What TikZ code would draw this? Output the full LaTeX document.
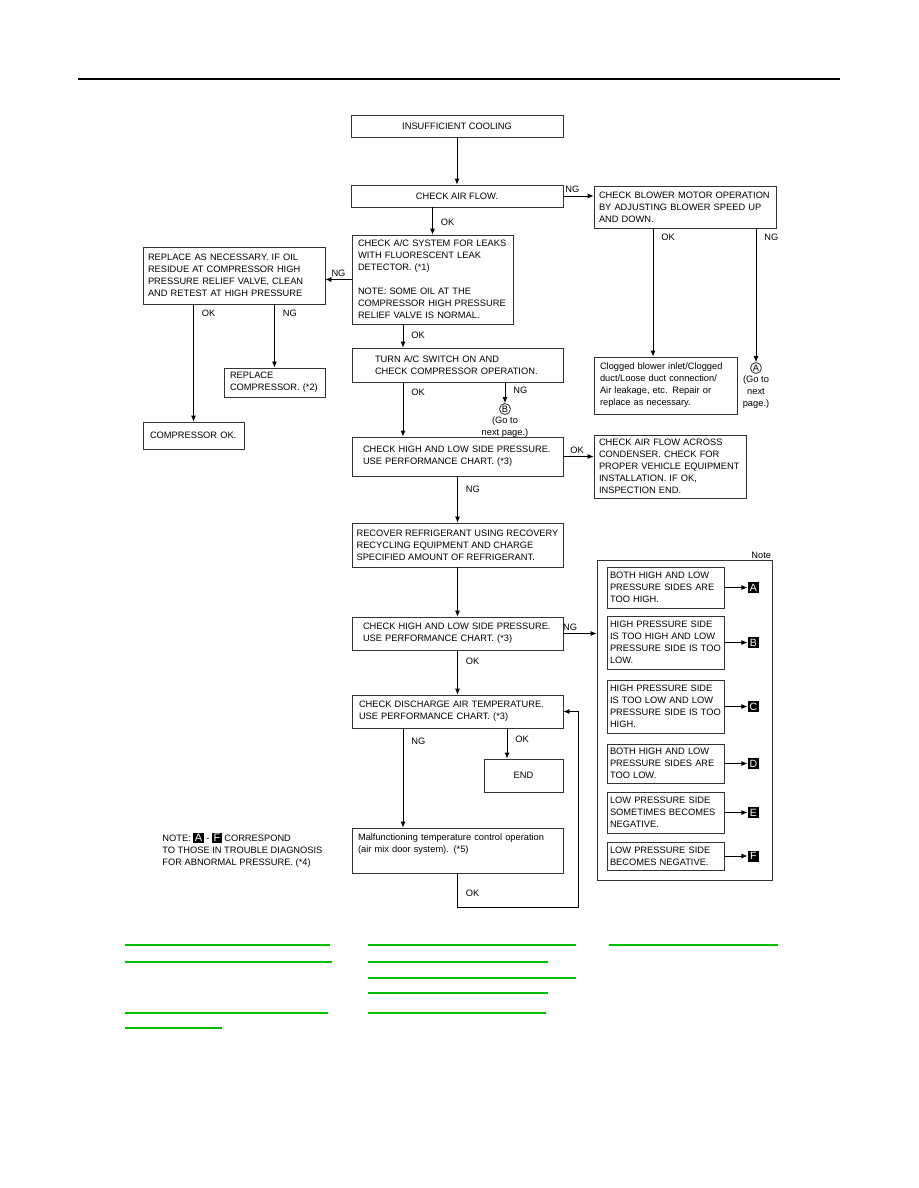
\documentclass[tikz,border=0pt]{standalone}
\usepackage{fontspec}
\setmainfont{Liberation Sans}
\usetikzlibrary{arrows.meta,positioning}
\definecolor{linkgreen}{RGB}{0,190,0}
\newcommand{\chartfont}{\fontsize{9.3}{12}\selectfont}
\newcommand{\tagsq}[1]{{\setlength{\fboxsep}{1.5pt}\colorbox{black}{\textcolor{white}{\fontsize{11}{11}\selectfont #1}}}}

\begin{document}
\begin{tikzpicture}[->,>={Latex[length=6pt,width=5pt]},auto,x=1pt,y=-1pt,line width=0.8pt,
  every node/.style={font=\chartfont},
  box/.style={draw=black!80,rectangle,align=left,inner ysep=0pt},
  mid/.style={box,align=center},
  lbl/.style={inner xsep=8pt,inner ysep=3pt},
  tag/.style={fill=black,text=white,minimum size=11,inner sep=0pt,font=\fontsize{10.5}{10.5}\selectfont},
  conn/.style={circle,draw=black!80,inner sep=0pt,minimum size=11},
  goto/.style={inner sep=1pt,align=center}]

\useasboundingbox (0,0) rectangle (918,1188);

\node[mid,minimum width=212,minimum height=22] (cool) at (457,126) {INSUFFICIENT COOLING};
\node[mid,minimum width=212,minimum height=22] (air) at (457,196) {CHECK AIR FLOW.};
\node[box,text width=172pt,inner xsep=5pt,minimum height=42] (blower) at (685,207) {CHECK BLOWER MOTOR OPERATION\\BY ADJUSTING BLOWER SPEED UP\\AND DOWN.};
\node[box,text width=149pt,inner xsep=6pt,minimum height=89] (leak) at (432.5,279.5) {CHECK A/C SYSTEM FOR LEAKS\\WITH FLUORESCENT LEAK\\DETECTOR. (*1)\\[12pt]NOTE: SOME OIL AT THE\\COMPRESSOR HIGH PRESSURE\\RELIEF VALVE IS NORMAL.};
\node[box,text width=172pt,inner xsep=5pt,minimum height=57] (repl) at (234,275.5) {REPLACE AS NECESSARY. IF OIL\\RESIDUE AT COMPRESSOR HIGH\\PRESSURE RELIEF VALVE, CLEAN\\AND RETEST AT HIGH PRESSURE};
\node[box,text width=89pt,inner xsep=6pt,minimum height=29] (replc) at (274.5,382.5) {REPLACE\\COMPRESSOR. (*2)};
\node[box,text width=87pt,inner xsep=7pt,minimum height=27] (compok) at (193.5,435.5) {COMPRESSOR OK.};
\node[box,text width=165pt,inner xsep=23pt,minimum height=34] (turn) at (457.5,365) {TURN A/C SWITCH ON AND\\CHECK COMPRESSOR OPERATION.};
\node[box,text width=189pt,inner xsep=11pt,minimum height=39] (hilo) at (457.5,456.5) {CHECK HIGH AND LOW SIDE PRESSURE.\\USE PERFORMANCE CHART. (*3)};
\node[box,text width=142pt,inner xsep=5pt,minimum height=63] (cond) at (670,466.5) {CHECK AIR FLOW ACROSS\\CONDENSER. CHECK FOR\\PROPER VEHICLE EQUIPMENT\\INSTALLATION. IF OK,\\INSPECTION END.};
\node[box,text width=131pt,inner xsep=6pt,minimum height=57] (clog) at (665.5,385.5) {Clogged blower inlet/Clogged\\duct/Loose duct connection/\\Air leakage, etc. Repair or\\replace as necessary.};
\node[box,minimum width=211,minimum height=44] (recov) at (457.5,545) {RECOVER REFRIGERANT USING RECOVERY\\RECYCLING EQUIPMENT AND CHARGE\\SPECIFIED AMOUNT OF REFRIGERANT.};
\node[box,text width=189pt,inner xsep=11pt,minimum height=33] (hilo2) at (457.5,633.5) {CHECK HIGH AND LOW SIDE PRESSURE.\\USE PERFORMANCE CHART. (*3)};
\node[box,text width=197pt,inner xsep=7pt,minimum height=33] (disch) at (457.5,711.5) {CHECK DISCHARGE AIR TEMPERATURE.\\USE PERFORMANCE CHART. (*3)};
\node[mid,minimum width=79,minimum height=33] (end) at (523.5,775.5) {END};
\node[box,text width=199pt,inner xsep=6pt,minimum height=45] (malf) at (457.5,850.5) {Malfunctioning temperature control operation\\(air mix door system). (*5)\\\strut};

\node[draw=black!80,minimum width=175,minimum height=320,inner sep=0pt] (frame) at (684.5,720) {};
\node[anchor=south east,inner sep=1pt] (notelbl) at (frame.north east) {Note};
\node[box,text width=111pt,inner xsep=3pt,minimum height=41] (nA) at (665.5,587.5) {BOTH HIGH AND LOW\\PRESSURE SIDES ARE\\TOO HIGH.};
\node[box,text width=111pt,inner xsep=3pt,minimum height=53] (nB) at (665.5,642.5) {HIGH PRESSURE SIDE\\IS TOO HIGH AND LOW\\PRESSURE SIDE IS TOO\\LOW.};
\node[box,text width=111pt,inner xsep=3pt,minimum height=53] (nC) at (665.5,706.5) {HIGH PRESSURE SIDE\\IS TOO LOW AND LOW\\PRESSURE SIDE IS TOO\\HIGH.};
\node[box,text width=111pt,inner xsep=3pt,minimum height=39] (nD) at (665.5,763.5) {BOTH HIGH AND LOW\\PRESSURE SIDES ARE\\TOO LOW.};
\node[box,text width=111pt,inner xsep=3pt,minimum height=41] (nE) at (665.5,812.5) {LOW PRESSURE SIDE\\SOMETIMES BECOMES\\NEGATIVE.};
\node[box,text width=111pt,inner xsep=3pt,minimum height=28] (nF) at (665.5,856) {LOW PRESSURE SIDE\\BECOMES NEGATIVE.};
\foreach \k in {A,B,C,D,E,F} {
  \node[tag,right=23pt of n\k] (sq\k) {\k};
  \draw (n\k) -- (sq\k);
}

\node[conn] (cA) at (756,368) {A};
\node[goto,below=0pt of cA] (gA) {(Go to\\next\\page.)};
\node[conn] (cB) at (505,409) {B};
\node[goto,below=0pt of cB] (gB) {(Go to\\next page.)};

\node[anchor=west,align=left,inner sep=0pt] (note) at (162,850) {NOTE: \tagsq{A} - \tagsq{F} CORRESPOND\\TO THOSE IN TROUBLE DIAGNOSIS\\FOR ABNORMAL PRESSURE. (*4)};

\coordinate (colL) at (403,0);
\coordinate (colE) at (507,0);
\coordinate (okB) at (653,0);
\coordinate (loopc) at (578,907);

\path (cool) edge (air)
  (air.east) edge node[lbl,pos=0.3] {NG} (air.east -| blower.west)
  (air.south -| leak.north) edge node[lbl,pos=0.55] {OK} (leak.north)
  (leak.west) edge node[lbl,swap,pos=0.5] {NG} (leak.west -| repl.east)
  (compok.north |- repl.south) edge node[lbl,pos=0.08] {OK} (compok.north)
  (replc.north |- repl.south) edge node[lbl,pos=0.14] {NG} (replc.north)
  (blower.south -| okB) edge node[lbl,pos=0.07] {OK} (clog.north -| okB)
  (blower.south -| cA) edge node[lbl,pos=0.07] {NG} (cA)
  (leak.south -| colL) edge node[lbl,pos=0.45] {OK} (turn.north -| colL)
  (turn.south -| colL) edge node[lbl,pos=0.18] {OK} (hilo.north -| colL)
  (turn.south -| cB) edge node[lbl,pos=0.4] {NG} (cB)
  (hilo.east) edge node[lbl,pos=0.45] {OK} (hilo.east -| cond.west)
  (hilo) edge node[lbl,pos=0.28] {NG} (recov)
  (recov) edge (hilo2)
  (hilo2.east) edge node[lbl,pos=0.2] {NG} (hilo2.east -| frame.west)
  (hilo2) edge node[lbl,pos=0.24] {OK} (disch)
  (disch.south -| colL) edge node[lbl,pos=0.13] {NG} (malf.north -| colL)
  (disch.south -| colE) edge node[lbl,pos=0.35] {OK} (end.north -| colE);
\draw (malf.south) |- node[lbl,pos=0.3] {OK} (loopc) |- (disch.east);

\draw[-,line width=2pt] (78,79) -- (840,79);
\foreach \xa/\xb/\yy in {125/330/945,125/332/962,125/328/1013,125/222/1028,
  368/576/945,368/548/962,368/576/978,368/548/993,368/546/1013,609/778/945}
  \draw[-,linkgreen,line width=1.5pt] (\xa,\yy) -- (\xb,\yy);

\end{tikzpicture}
\end{document}
